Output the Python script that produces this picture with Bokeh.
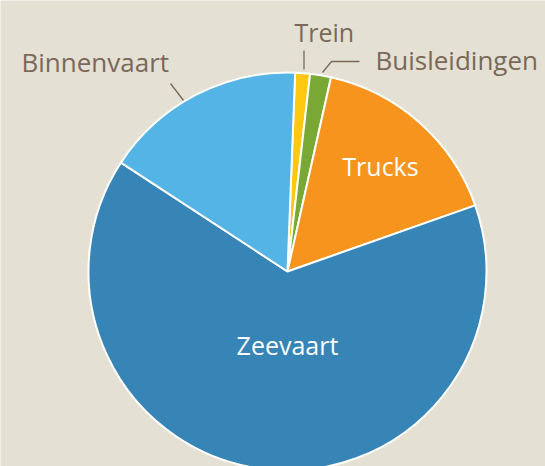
import math
from bokeh.plotting import figure
from bokeh.models import Range1d, ColumnDataSource
from bokeh.core.properties import value
from bokeh.embed import file_html
from bokeh.resources import INLINE

# ---- data ----
categories = ["Trein", "Buisleidingen", "Trucks", "Zeevaart", "Binnenvaart"]
shares = [1.2, 1.7, 16.1, 64.6, 16.4]
colors = ["#fdc80f", "#79a934", "#f7941d", "#3784b6", "#55b4e6"]

# ---- layout (pixels) ----
W, H = 545, 466
CX, CY = 287, 271          # pie centre in screen pixels (y down)
R = 199
START_DEG = 2.2            # first slice starts slightly right of 12 o'clock

FONT = "Open Sans"
LABEL_COLOR = "#7a6858"
BG = "#e4e0d4"

p = figure(width=W, height=H, output_backend="svg", toolbar_location=None,
           x_range=Range1d(0, W), y_range=Range1d(0, H),
           min_border=0, border_fill_color=BG, background_fill_color=BG)
p.axis.visible = False
p.grid.visible = False
p.outline_line_color = None

def sy(y):
    return H - y

total = sum(shares)
starts, ends = [], []
acc = START_DEG
for v in shares:
    a0 = acc
    a1 = acc + v / total * 360.0
    starts.append(math.radians(90 - a1))
    ends.append(math.radians(90 - a0))
    acc = a1

src = ColumnDataSource(dict(cat=categories, start=starts, end=ends, color=colors))
p.wedge(x=CX, y=sy(CY), radius=R, start_angle="start", end_angle="end",
        fill_color="color", line_color="white", line_width=2, source=src)

# inner labels
p.text(x=[380], y=[sy(165)], text=["Trucks"], text_color="white",
       text_font=value(FONT), text_font_size="25px",
       text_align="center", text_baseline="middle")
p.text(x=[287], y=[sy(344)], text=["Zeevaart"], text_color="white",
       text_font=value(FONT), text_font_size="25px",
       text_align="center", text_baseline="middle")

# outer labels
p.text(x=[21], y=[sy(61)], text=["Binnenvaart"], text_color=LABEL_COLOR,
       text_font=value(FONT), text_font_size="26px",
       text_align="left", text_baseline="alphabetic")
p.text(x=[294], y=[sy(31)], text=["Trein"], text_color=LABEL_COLOR,
       text_font=value(FONT), text_font_size="25px",
       text_align="left", text_baseline="alphabetic")
p.text(x=[375], y=[sy(59)], text=["Buisleidingen"], text_color=LABEL_COLOR,
       text_font=value(FONT), text_font_size="26px",
       text_align="left", text_baseline="alphabetic")

# connectors
p.line(x=[170, 183], y=[sy(83), sy(100)], line_color=LABEL_COLOR, line_width=1.3)
p.line(x=[303.5, 303.5], y=[sy(50), sy(69)], line_color=LABEL_COLOR, line_width=1.3)
p.line(x=[322, 331, 359], y=[sy(72), sy(61), sy(61)], line_color=LABEL_COLOR, line_width=1.3)

open("out.html", "w").write(file_html(p, INLINE))
